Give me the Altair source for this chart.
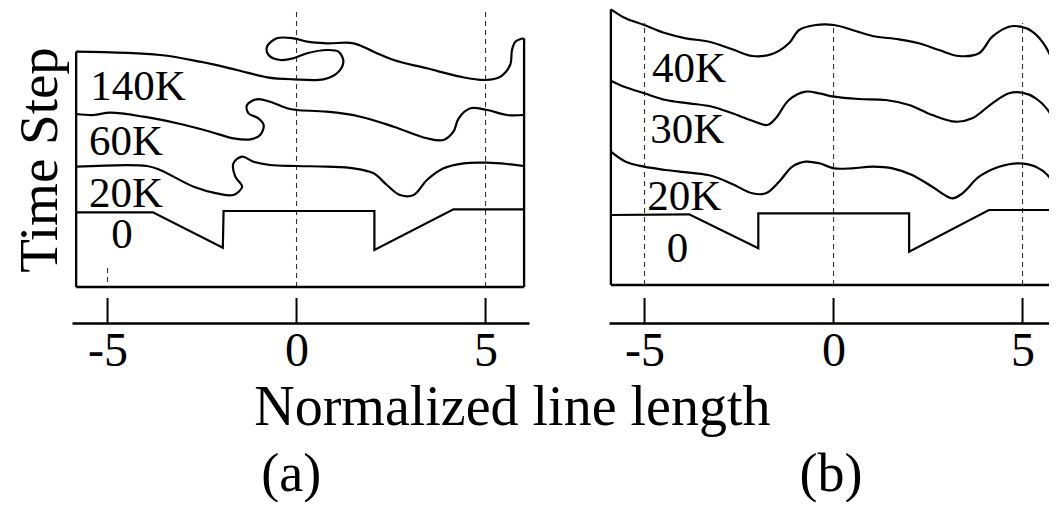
import altair as alt
import pandas as pd

FONT = "Liberation Serif"

# ---------------- axis ticks ----------------
TICKS = [-5, 0, 5]

# ---------------- panel (a) curves ----------------
A_140K_X = [-5.83, -3.61, -2.55, -1.58, -0.78, -0.08, 0.71, 1.07, 1.24, 1.11, 0.80, 0.28, -0.08,
            -0.43, -0.74, -0.78, -0.52, -0.08, 0.28, 0.80, 1.51, 2.04, 2.57, 3.45, 4.33, 4.99,
            5.39, 5.65, 5.70, 5.79, 6.01]
A_140K_Y = [235.3, 232, 225.3, 217, 209.7, 207.7, 207.7, 213.7, 225.3, 235.3, 237, 233.7, 228.7,
            227, 232, 240.3, 248.7, 248.7, 245.3, 243.7, 243.7, 235.3, 227, 218.7, 210.3, 207,
            210.3, 222, 237, 245.3, 248.7]

A_60K_X = [-5.83, -5.37, -4.93, -4.05, -3.16, -2.28, -1.67, -1.22, -0.96, -0.87, -1.01, -1.27,
           -1.31, -1.05, -0.70, -0.25, 0.01, 0.80, 1.69, 2.57, 3.45, 3.89, 4.15, 4.29, 4.60,
           5.04, 5.57, 6.01]
A_60K_Y = [173, 172, 174.3, 170.3, 163.7, 155.3, 148.7, 147.7, 152, 162, 168.7, 173.7,
           182, 187.7, 185.3, 178.7, 177, 175.3, 170.3, 160.3, 148.7, 147, 155.3, 168.7, 178.7,
           177, 172, 172]

A_20K_X = [-5.83, -3.96, -3.61, -2.72, -2.11, -1.67, -1.44, -1.62, -1.67, -1.44, -1.14, -0.70,
           0.01, 0.80, 1.51, 2.04, 2.39, 2.74, 3.10, 3.45, 3.89, 4.42, 5.04, 5.57, 6.01]
A_20K_Y = [120.3, 121, 117, 100.3, 93.7, 92, 100.3, 110.3, 123.7, 130.3, 125.3, 122,
           121, 120.3, 118.7, 113.7, 102, 92, 92, 107, 118.7, 123.7, 124.3, 123, 121]

A_0_X = [-5.83, -3.80, -1.95, -1.93, 2.06, 2.06, 4.15, 6.01]
A_0_Y = [74.7, 74.7, 39.3, 76, 76, 37, 77.7, 77.7]

# ---------------- panel (b) curves ----------------
B_40K_X = [-5.89, -5.50, -5.01, -4.44, -3.91, -3.29, -2.68, -2.15, -1.62, -1.18, -0.91, -0.47,
           0.01, 0.50, 1.03, 1.73, 2.26, 2.79, 3.32, 3.85, 4.20, 4.64, 4.95, 5.26, 5.61, 5.83, 5.88]
B_40K_Y = [277.7, 268.7, 262, 253.7, 248.7, 245.3, 237.7, 231, 233, 243.7, 257, 262,
           262, 257, 251, 247.7, 243.7, 237, 231, 233.7, 250.3, 260.3, 260.3, 255.3, 240.3, 220.3, 193.7]

B_30K_X = [-5.89, -5.50, -5.01, -4.44, -3.82, -3.21, -2.68, -2.15, -1.75, -1.53, -1.18, -0.74,
           -0.38, 0.01, 0.67, 1.38, 2.00, 2.61, 3.23, 3.67, 4.20, 4.64, 4.99, 5.35, 5.70, 5.89]
B_30K_Y = [206.3, 199.7, 193.7, 187, 183.7, 180.3, 173.7, 166.3, 162, 168.7, 187, 195.3,
           193.7, 190.3, 188, 187, 182, 172, 165.3, 168.7, 183.7, 193.7, 194.3, 188.7, 175.3, 157]

B_20K_X = [-5.89, -5.50, -5.01, -4.44, -3.82, -3.21, -2.68, -2.15, -1.79, -1.44, -1.09, -0.74,
           -0.38, 0.01, 0.50, 1.03, 1.56, 2.08, 2.61, 3.14, 3.41, 3.85, 4.38, 4.91, 5.35, 5.70, 5.89]
B_20K_Y = [135.3, 125.3, 120.3, 117, 114.3, 111, 103, 93.7, 93.7, 105.3, 120.3, 125.3,
           123.7, 118.7, 118.7, 120.3, 118.7, 112, 100.3, 88.7, 93.7, 110.3, 120.3, 123.7, 120.3, 110.3, 95.3]

B_0_X = [-5.89, -3.82, -1.99, -1.99, 2.00, 2.00, 4.11, 5.89]
B_0_Y = [72, 72.7, 38.7, 73.7, 73.7, 35.3, 77, 77]

# ---------------- frames (box) ----------------
A_BOX_X = [-5.83, -5.83, 6.02]
A_BOX_X2 = [-5.83, 6.02, 6.02]
A_BOX_Y = [0, 0, 0]
A_BOX_Y2 = [235.3, 0, 248.7]

B_BOX_X = [-5.89, -5.89]
B_BOX_X2 = [-5.89, 5.90]
B_BOX_Y = [2, 2]
B_BOX_Y2 = [277.7, 2]
B_EDGE_X = [5.90]
B_EDGE_Y = [2]
B_EDGE_Y2 = [257]

# ---------------- dashed guides ----------------
A_DASH_X = [0, 5, -5]
A_DASH_Y = [0, 0, 5]
A_DASH_Y2 = [277, 277, 20]
B_DASH_X = [-5, 0, 5]
B_DASH_Y = [2, 2, 2]
B_DASH_Y2 = [264, 262, 264]

# ---------------- series labels ----------------
A_LABELS = ["140K", "60K", "20K"]
A_LABEL_X = [-5.46, -5.49, -5.49]
A_LABEL_Y = [187, 132, 80]
A_ZERO_X = [-4.62]
A_ZERO_Y = [39]
B_LABELS = ["40K", "30K", "20K"]
B_LABEL_X = [-4.80, -4.85, -4.93]
B_LABEL_Y = [205, 144, 77]
B_ZERO_X = [-4.13]
B_ZERO_Y = [25]

# ---------------- titles ----------------
YTITLE = "Time Step"
XTITLE = "Normalized line length"
PANEL_A = "(a)"
PANEL_B = "(b)"


def curves(series):
    rows = []
    for name, xs, ys in series:
        for i, (x, y) in enumerate(zip(xs, ys)):
            rows.append({"series": name, "i": i, "x": x, "y": y})
    return pd.DataFrame(rows)


YS = alt.Scale(domain=[-36, 279], nice=False, zero=False)
# negative labels: pad on the right so the digit (not the whole "-5") sits on the tick
XAXIS = alt.Axis(values=TICKS, ticks=False, tickSize=0, grid=False, domain=True,
                 domainColor="black", domainWidth=2.5, labelFont=FONT, labelFontSize=48,
                 labelColor="black", labelPadding=4, title=None, labelFlush=False,
                 labelOverlap=False,
                 labelExpr="datum.value < 0 ? '-' + (-datum.value) + '\u2004' : '' + datum.value")


def panel(xdomain, width, smooth, steps, box, edge, dash, labels, zero, extra_text, clip):
    XS = alt.Scale(domain=xdomain, nice=False, zero=False)
    X = lambda f="x": alt.X(f"{f}:Q", scale=XS, axis=XAXIS)
    Y = lambda f="y": alt.Y(f"{f}:Q", scale=YS, axis=None)

    layers = []
    layers.append(alt.Chart(dash).mark_rule(color="#333", strokeWidth=1.1, strokeDash=[5, 4],
                                            clip=clip).encode(
        x=X(), y=Y(), y2="y2:Q"))
    layers.append(alt.Chart(box).mark_rule(color="black", strokeWidth=2.3, clip=clip).encode(
        x=X(), x2="x2:Q", y=Y(), y2="y2:Q"))
    if edge is not None:
        layers.append(alt.Chart(edge).mark_rule(color="black", strokeWidth=1.2, clip=clip).encode(
            x=X(), y=Y(), y2="y2:Q"))
    layers.append(alt.Chart(smooth).mark_line(color="black", strokeWidth=2.2,
                                               interpolate="catmull-rom", clip=clip).encode(
        x=X(), y=Y(), order="i:Q", detail="series:N"))
    layers.append(alt.Chart(steps).mark_line(color="black", strokeWidth=2.2,
                                              interpolate="linear", clip=clip).encode(
        x=X(), y=Y(), order="i:Q", detail="series:N"))
    layers.append(alt.Chart(pd.DataFrame({"x": TICKS})).mark_rule(color="black", strokeWidth=2).encode(
        x=X(), y=alt.value(290), y2=alt.value(315)))
    layers.append(alt.Chart(labels).mark_text(font=FONT, fontSize=43, align="left",
                                               baseline="alphabetic", color="black").encode(
        x=X(), y=Y(), text="t:N"))
    layers.append(alt.Chart(zero).mark_text(font=FONT, fontSize=43, align="center",
                                             baseline="alphabetic", color="black").encode(
        x=X(), y=Y(), text="t:N"))
    for df, size, angle in extra_text:
        layers.append(alt.Chart(df).mark_text(font=FONT, fontSize=size, align="center",
                                               baseline="alphabetic", color="black",
                                               angle=angle).encode(
            x=X(), y=Y(), text="t:N"))
    return alt.layer(*layers).properties(width=width, height=315)


smooth_a = curves([("140K", A_140K_X, A_140K_Y), ("60K", A_60K_X, A_60K_Y),
                   ("20K", A_20K_X, A_20K_Y)])
steps_a = curves([("0", A_0_X, A_0_Y)])
smooth_b = curves([("40K", B_40K_X, B_40K_Y), ("30K", B_30K_X, B_30K_Y),
                   ("20K", B_20K_X, B_20K_Y)])
steps_b = curves([("0", B_0_X, B_0_Y)])

box_a = pd.DataFrame({"x": A_BOX_X, "x2": A_BOX_X2, "y": A_BOX_Y, "y2": A_BOX_Y2})
box_b = pd.DataFrame({"x": B_BOX_X, "x2": B_BOX_X2, "y": B_BOX_Y, "y2": B_BOX_Y2})
edge_b = pd.DataFrame({"x": B_EDGE_X, "y": B_EDGE_Y, "y2": B_EDGE_Y2})
dash_a = pd.DataFrame({"x": A_DASH_X, "y": A_DASH_Y, "y2": A_DASH_Y2})
dash_b = pd.DataFrame({"x": B_DASH_X, "y": B_DASH_Y, "y2": B_DASH_Y2})
lab_a = pd.DataFrame({"t": A_LABELS, "x": A_LABEL_X, "y": A_LABEL_Y})
lab_b = pd.DataFrame({"t": B_LABELS, "x": B_LABEL_X, "y": B_LABEL_Y})
zero_a = pd.DataFrame({"t": ["0"], "x": A_ZERO_X, "y": A_ZERO_Y})
zero_b = pd.DataFrame({"t": ["0"], "x": B_ZERO_X, "y": B_ZERO_Y})

extra_a = [
    (pd.DataFrame({"t": [YTITLE], "x": [-6.329], "y": [127]}), 55, 270),
    (pd.DataFrame({"t": [XTITLE], "x": [5.71], "y": [-138]}), 56, 0),
    (pd.DataFrame({"t": [PANEL_A], "x": [-0.14], "y": [-204]}), 54, 0),
]
extra_b = [
    (pd.DataFrame({"t": [PANEL_B], "x": [-0.07], "y": [-204]}), 54, 0),
]

pa = panel([-5.94, 6.15], 457, smooth_a, steps_a, box_a, None, dash_a, lab_a, zero_a, extra_a, False)
pb = panel([-5.94, 5.70], 440, smooth_b, steps_b, box_b, edge_b, dash_b, lab_b, zero_b, extra_b, True)

chart = alt.hconcat(pa, pb, spacing=80, bounds="flush").properties(
    padding={"left": 5, "top": 0, "right": 0, "bottom": 0},
    background="white",
).configure_view(stroke=None)

chart.save("out.html", embed_options={"renderer": "svg", "actions": False})
